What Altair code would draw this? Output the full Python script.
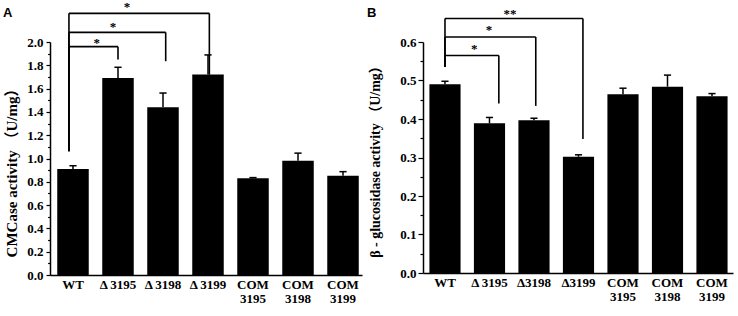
import altair as alt
import pandas as pd

SERIF = "Liberation Serif, Noto Sans CJK SC"
SANS = "Liberation Sans"

# ---------------- Panel A data ----------------
A_labels = ["WT", "Δ 3195", "Δ 3198", "Δ 3199", "COM3195", "COM3198", "COM3199"]
A_means = [0.91, 1.69, 1.44, 1.72, 0.83, 0.98, 0.852]
A_errs = [0.028, 0.093, 0.122, 0.169, 0.006, 0.066, 0.035]
A_yticks = [0.0, 0.1, 0.2, 0.3, 0.4, 0.5, 0.6, 0.7, 0.8, 0.9, 1.0,
            1.1, 1.2, 1.3, 1.4, 1.5, 1.6, 1.7, 1.8, 1.9, 2.0]
A_br_from = [-0.09, -0.09, -0.09]
A_br_to = [1.0, 2.06, 3.03]
A_br_y = [1.96, 2.083, 2.246]
A_br_left_bottom = [1.063, 1.063, 1.063]
A_br_right_bottom = [1.85, 1.835, 1.72]
A_star_x = [0.53, 0.89, 1.2]
A_star_y = [1.99, 2.13, 2.30]
A_star_text = ["*", "*", "*"]

# ---------------- Panel B data ----------------
B_labels = ["WT", "Δ 3195", "Δ3198", "Δ3199", "COM3195", "COM3198", "COM3199"]
B_means = [0.490, 0.389, 0.397, 0.302, 0.464, 0.484, 0.459]
B_errs = [0.008, 0.015, 0.005, 0.005, 0.016, 0.030, 0.007]
B_yticks = [0.0, 0.05, 0.1, 0.15, 0.2, 0.25, 0.3, 0.35, 0.4, 0.45, 0.5, 0.55, 0.6]
B_br_from = [0.0, 0.0, 0.0]
B_br_to = [1.21, 2.04, 3.1]
B_br_y = [0.565, 0.613, 0.661]
B_br_left_bottom = [0.535, 0.535, 0.535]
B_br_right_bottom = [0.44, 0.434, 0.348]
B_star_x = [0.66, 0.99, 1.46]
B_star_y = [0.581, 0.63, 0.673]
B_star_text = ["*", "*", "**"]


def make_panel(labels, means, errs, yticks, major_mult, ymax, xdom, w, h,
               title, title_size, title_x, title_y, tick_size, label_pad,
               br_from, br_to, br_y, br_lb, br_rb, star_x, star_y, star_text,
               letter, letter_x):
    df = pd.DataFrame({"idx": list(range(len(labels))), "label": labels,
                       "mean": means, "err": errs})
    br = pd.DataFrame({"x0": br_from, "x1": br_to, "y": br_y,
                       "lb": br_lb, "rb": br_rb})
    st = pd.DataFrame({"sx": star_x, "sy": star_y, "t": star_text})

    xscale = alt.Scale(domain=xdom, nice=False, zero=False)
    yscale = alt.Scale(domain=[0, ymax], nice=False, zero=True)
    major = f"round(datum.value*{major_mult}) % 2 === 0"

    x_axis = alt.Axis(values=list(range(len(labels))), labels=False,
                      ticks=False, grid=False,
                      domainColor="black", domainWidth=1.5, title=None)
    y_axis = alt.Axis(values=yticks,
                      labelExpr=f"{major} ? format(datum.value, '.1f') : ''",
                      tickSize={"condition": {"test": major, "value": tick_size},
                                "value": round(tick_size * 0.6, 1)},
                      tickColor="black", tickWidth=1.2, grid=False,
                      labelPadding=label_pad, labelFlush=False, labelOverlap=False,
                      labelFont=SERIF, labelFontSize=13, labelFontWeight="bold",
                      labelColor="black", domainColor="black", domainWidth=1.5,
                      title=title, titleFont=SERIF, titleFontSize=title_size,
                      titleFontWeight="bold", titleColor="black",
                      titleX=title_x, titleY=title_y, titleAlign="center",
                      titleBaseline="middle", titleAngle=270)

    def X(field):
        return alt.X(field, scale=xscale, axis=x_axis, title=None)

    def Y(field):
        return alt.Y(field, scale=yscale, axis=y_axis, title=title)

    base = alt.Chart(df).transform_calculate(
        lo="datum.idx - 0.35", hi="datum.idx + 0.35",
        top="datum.mean + datum.err",
        cl="datum.idx - 0.08", cr="datum.idx + 0.08",
        # long labels are wrapped after "COM" so neighbours never overlap
        wrapped="indexof(datum.label, 'COM') === 0 ? 'COM|' + slice(datum.label, 3) : datum.label")

    bars = base.mark_bar(color="black").encode(
        x=X("lo:Q"), x2="hi:Q", y=Y("mean:Q"), y2=alt.datum(0))
    err_line = base.mark_rule(color="black", strokeWidth=1.5).encode(
        x=X("idx:Q"), y=Y("mean:Q"), y2="top:Q")
    err_cap = base.mark_rule(color="black", strokeWidth=1.5).encode(
        x=X("cl:Q"), x2="cr:Q", y=Y("top:Q"))
    xlabels = base.mark_text(font=SERIF, fontSize=13, fontWeight="bold",
                             color="black", align="center", baseline="top",
                             lineBreak="|", lineHeight=14, yOffset=4).encode(
        x=X("idx:Q"), y=alt.value(h), text="wrapped:N")

    bch = alt.Chart(br)
    br_h = bch.mark_rule(color="black", strokeWidth=1.6).encode(
        x=X("x0:Q"), x2="x1:Q", y=Y("y:Q"))
    br_l = bch.mark_rule(color="black", strokeWidth=1.6).encode(
        x=X("x0:Q"), y=Y("lb:Q"), y2="y:Q")
    br_r = bch.mark_rule(color="black", strokeWidth=1.6).encode(
        x=X("x1:Q"), y=Y("rb:Q"), y2="y:Q")
    stars = alt.Chart(st).mark_text(font=SERIF, fontSize=13, fontWeight="bold",
                                    color="black", baseline="middle",
                                    align="center").encode(
        x=X("sx:Q"), y=Y("sy:Q"), text="t:N")
    letter_mark = alt.Chart(pd.DataFrame({"t": [letter]})).mark_text(
        font=SANS, fontSize=13, fontWeight="bold", color="black",
        align="left", baseline="alphabetic").encode(
        x=alt.value(letter_x), y=alt.value(-25.5), text="t:N")

    return alt.layer(bars, err_line, err_cap, xlabels, br_h, br_l, br_r, stars,
                     letter_mark).properties(width=w, height=h)


panel_a = make_panel(A_labels, A_means, A_errs, A_yticks, 10, 2.0,
                     [-0.511, 6.422], 312, 233,
                     "CMCase activity （U/mg）", 15, -39, 127, 4, 3,
                     A_br_from, A_br_to, A_br_y, A_br_left_bottom,
                     A_br_right_bottom, A_star_x, A_star_y, A_star_text,
                     "A", -47)
panel_b = make_panel(B_labels, B_means, B_errs, B_yticks, 20, 0.6,
                     [-0.494, 6.472], 310, 231,
                     "β - glucosidase activity （U/mg）", 14, -48, 116, 5, 2,
                     B_br_from, B_br_to, B_br_y, B_br_left_bottom,
                     B_br_right_bottom, B_star_x, B_star_y, B_star_text,
                     "B", -56)

chart = alt.hconcat(panel_a, panel_b, spacing=61, bounds="flush").properties(
    padding={"left": 3, "top": 1, "right": 2, "bottom": 0},
    background="white",
).configure_view(stroke=None)

chart.save("out.html", embed_options={"renderer": "svg", "actions": False})
